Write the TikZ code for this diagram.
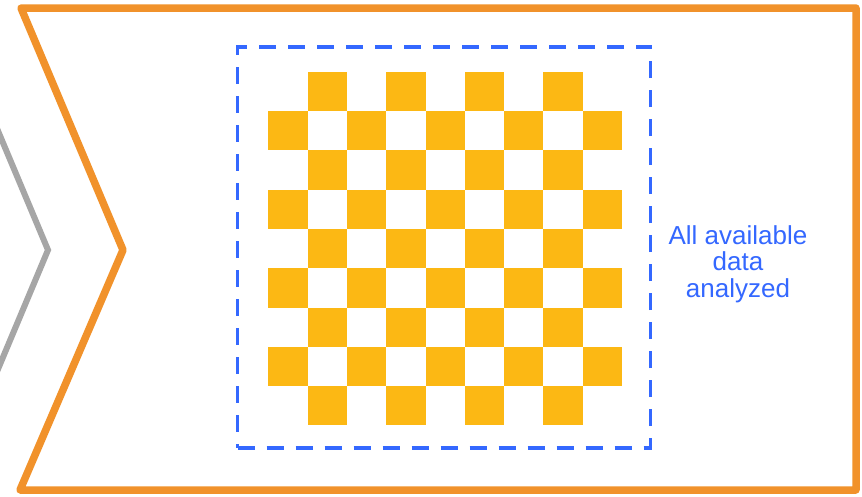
\documentclass[tikz,border=0pt]{standalone}
\usepackage{fontspec}
\setmainfont{Liberation Sans}
\definecolor{chevorange}{RGB}{241,146,43}
\definecolor{chevgray}{RGB}{166,166,166}
\definecolor{checkyellow}{RGB}{252,184,20}
\definecolor{boxblue}{RGB}{52,104,255}
\tikzset{
  chevronline/.style={line width=7.5pt, line join=round, line cap=round},
  grayline/.style={draw=chevgray, line width=6pt, line join=miter},
  cell/.style={fill=checkyellow},
  framebox/.style={draw=boxblue, line width=3.3pt, dash pattern=on 17pt off 12pt, inner sep=0pt, minimum width=413pt, minimum height=401pt},
  labeltext/.style={text=boxblue, align=center, inner sep=0pt, font=\fontsize{26}{26.5}\selectfont}
}
\begin{document}
\begin{tikzpicture}[x=1pt,y=-1pt]
\useasboundingbox (0,0) rectangle (862,496);
\fill[white] (0,0) rectangle (862,496);
\begin{scope}
\clip (0,0) rectangle (862,496);
\draw[grayline] (-20,88) -- (48,250) -- (-20,412);
\end{scope}
\draw[chevronline, draw=chevorange] (21,8) -- (856,8) -- (856,490) -- (20,490) -- (123,250) -- cycle;
\foreach \r in {0,...,8}{
  \foreach \c in {0,...,8}{
    \pgfmathtruncatemacro\s{\r+\c}
    \ifodd\s
      \fill[cell] ({268.3+\c*39.3},{71.7+\r*39.3}) rectangle ++(39.3,39.3);
    \fi
  }
}
\node[framebox] (frame) at (444,247.5) {};
\node[labeltext] (label) at (738,264) {All available\\data\\analyzed};
\end{tikzpicture}
\end{document}
